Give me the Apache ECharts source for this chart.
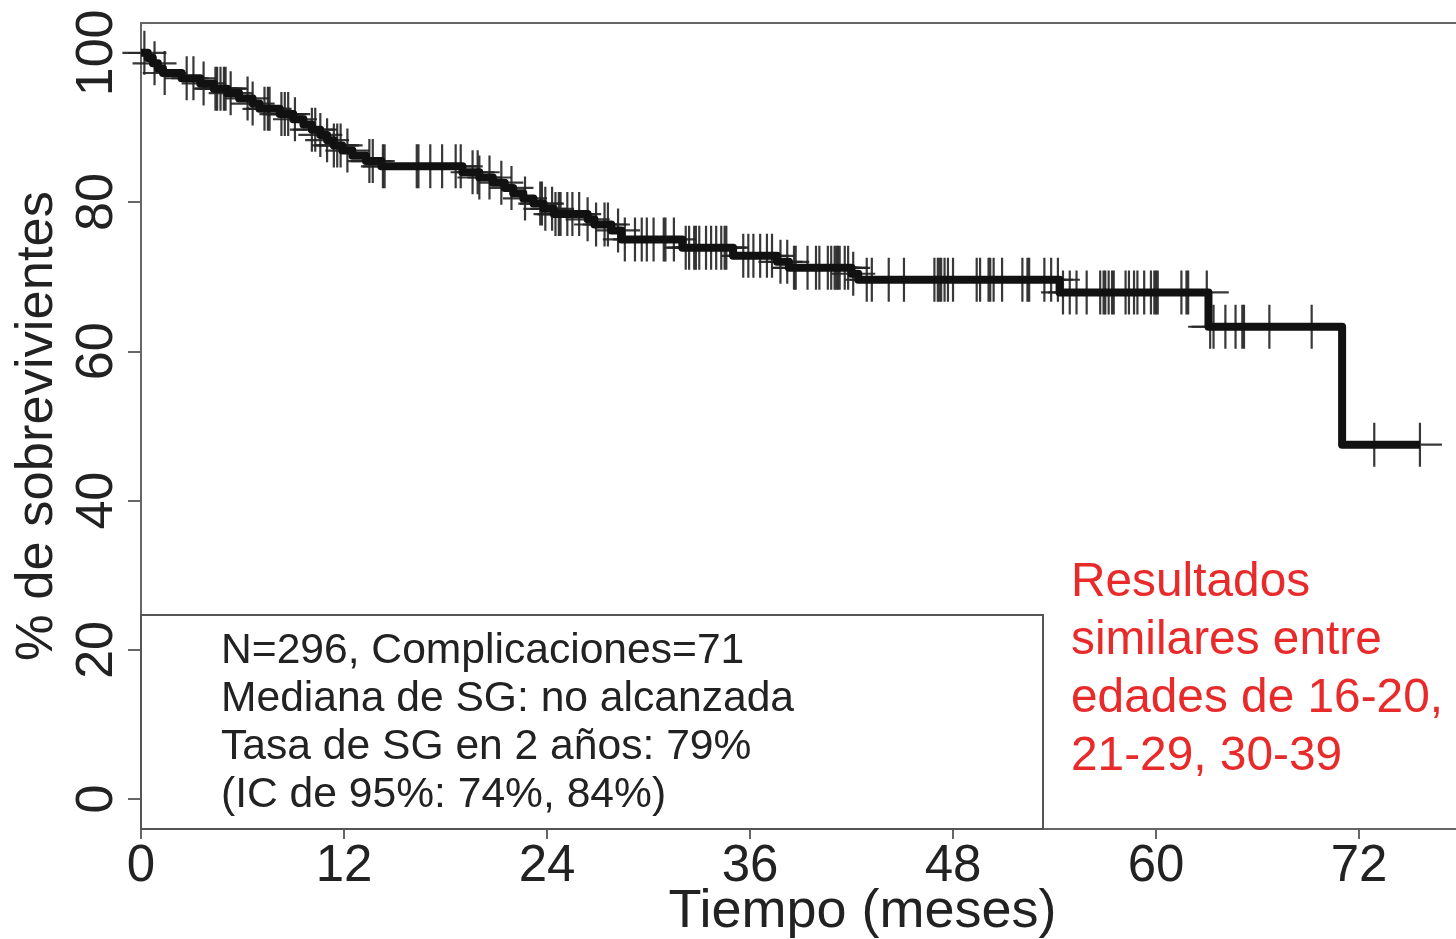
<!DOCTYPE html>
<html>
<head>
<meta charset="utf-8">
<script src="https://cdn.jsdelivr.net/npm/echarts@6/dist/echarts.min.js"></script>
<style>
html,body{margin:0;padding:0;background:#fff}
#chart{width:1456px;height:939px}
</style>
</head>
<body>
<div id="chart"></div>
<script>
// Kaplan-Meier steps (months, % surviving after the drop)
var stepTimes = [0, 0.4, 0.7, 1.0, 1.3, 2.4, 3.5, 4.3, 5.1, 5.8, 6.6, 7.0, 8.2, 9.0, 9.6, 10.1, 10.6, 11.0, 11.4, 11.9,
  12.5, 13.3, 14.2, 19.0, 20.0, 20.8, 21.5, 22.0, 22.6, 23.2, 23.8, 24.4, 26.4, 26.8, 27.8, 28.4, 32.0, 35.0, 37.6, 38.3,
  42.0, 42.4, 54.3, 63.1, 71.0]
var stepSurv = [100, 99.3, 98.6, 97.9, 97.3, 96.6, 95.9, 95.2, 94.6, 93.9, 93.2, 92.5, 91.8, 91.1, 90.4, 89.7, 89.0, 88.3, 87.6, 86.9,
  86.2, 85.5, 84.8, 84.0, 83.3, 82.6, 81.9, 81.2, 80.5, 79.8, 79.1, 78.4, 77.7, 77.0, 76.2, 75.0, 73.9, 72.8, 72.0, 71.2,
  70.4, 69.6, 67.9, 63.3, 47.5]
var endTime = 75.6

// censored patients (the + marks)
var censorTimes = [0.2, 0.8, 1.4, 2.7, 3.1, 3.7, 4.4, 4.5, 4.7, 4.9, 5.0, 5.3, 6.3, 6.6, 7.3, 7.5, 7.6, 8.3, 8.5, 8.7,
  9.1, 10.1, 10.3, 10.6, 11.0, 11.4, 11.6, 11.8, 12.2, 13.5, 13.7, 14.3, 14.4, 16.3, 16.4, 17.1, 17.8, 18.6, 18.9, 19.6,
  19.9, 20.0, 20.6, 21.3, 21.9, 22.7, 23.6, 23.7, 23.9, 24.3, 24.5, 24.7, 24.8, 25.2, 25.5, 25.9, 26.4, 26.9, 27.4, 27.6,
  28.2, 28.6, 29.2, 29.6, 29.9, 30.3, 30.9, 31.0, 31.5, 32.2, 32.4, 32.7, 32.8, 33.0, 33.4, 33.7, 34.0, 34.3, 34.5, 34.6,
  35.6, 35.9, 36.2, 36.6, 37.0, 37.3, 37.8, 38.2, 38.6, 38.7, 39.4, 39.9, 40.1, 40.6, 40.8, 41.0, 41.1, 41.2, 41.3, 41.6,
  41.8, 42.1, 42.9, 43.2, 44.2, 45.1, 46.9, 47.1, 47.2, 47.3, 47.5, 47.7, 48.0, 49.4, 49.6, 50.1, 50.2, 50.4, 50.9, 52.1,
  52.4, 52.5, 53.4, 53.8, 54.2, 54.5, 54.9, 55.3, 55.9, 56.7, 56.9, 57.0, 57.2, 57.4, 57.5, 58.2, 58.4, 58.7, 58.9, 59.3,
  59.7, 59.9, 60.0, 60.1, 61.5, 61.8, 61.9, 63.0, 63.2, 63.4, 64.1, 64.7, 65.1, 65.2, 66.7, 69.2, 72.9, 75.6]

var xTicks = [0, 12, 24, 36, 48, 60, 72]
var yTicks = [0, 20, 40, 60, 80, 100]

var noteLines = ['N=296, Complicaciones=71', 'Mediana de SG: no alcanzada', 'Tasa de SG en 2 años: 79%', '(IC de 95%: 74%, 84%)']
var redLines = ['Resultados', 'similares entre', 'edades de 16-20,', '21-29, 30-39']

var sans = '"Liberation Sans", Arial, sans-serif'

// value of the curve at time t (step lookup)
function survAt(t){
  var v = stepSurv[0]
  for (var i = 0; i < stepTimes.length; i++) {
    if (stepTimes[i] <= t) v = stepSurv[i]
  }
  return v
}

var curve = stepTimes.map(function(t, i){ return [t, stepSurv[i]] })
curve.push([endTime, survAt(endTime)])
var marks = censorTimes.map(function(t){ return [t, survAt(t)] })

var myChart = echarts.init(document.getElementById('chart'))
var option = {
  animation: false,
  backgroundColor: '#fff',
  grid: {
    left: 141, top: 23, right: -2, bottom: 110,
    containLabel: false, outerBoundsMode: 'none',
    show: true, borderColor: '#666', borderWidth: 2
  },
  xAxis: {
    type: 'value', min: 0, max: 77.85,
    axisLine: {show: false, onZero: false},
    splitLine: {show: false},
    axisTick: {customValues: xTicks, length: 10, lineStyle: {color: '#666', width: 2}},
    axisLabel: {customValues: xTicks, fontFamily: sans, fontSize: 51, color: '#222', margin: 12},
    name: 'Tiempo (meses)', nameLocation: 'middle', nameGap: 56, nameMoveOverlap: false,
    nameTextStyle: {fontFamily: sans, fontSize: 54, color: '#222', padding: [0, 0, 0, 126]}
  },
  yAxis: {
    type: 'value', min: -4, max: 104,
    axisLine: {show: false, onZero: false},
    splitLine: {show: false},
    axisTick: {customValues: yTicks, length: 13, lineStyle: {color: '#666', width: 2}},
    axisLabel: {customValues: yTicks, rotate: 90, fontFamily: sans, fontSize: 52, color: '#222', margin: 17},
    name: '% de sobrevivientes', nameLocation: 'middle', nameGap: 77, nameMoveOverlap: false,
    nameTextStyle: {fontFamily: sans, fontSize: 52.5, color: '#222'}
  },
  series: [{
    type: 'scatter',
    data: marks,
    symbol: 'path://M47.5,0L52.5,0L52.5,47.5L100,47.5L100,52.5L52.5,52.5L52.5,100L47.5,100L47.5,52.5L0,52.5L0,47.5L47.5,47.5Z',
    symbolSize: 44,
    itemStyle: {color: '#222', opacity: 0.9},
    z: 2
  }, {
    type: 'line',
    step: 'end',
    data: curve,
    showSymbol: false,
    lineStyle: {color: '#111', width: 8, join: 'round'},
    z: 3
  }],
  graphic: [{
    type: 'rect',
    shape: {x: 141, y: 615, width: 902, height: 214},
    style: {fill: 'none', stroke: '#555', lineWidth: 2},
    z: 10
  }, {
    type: 'text', left: 221, top: 627,
    style: {text: noteLines.join('\n'), font: '42.6px ' + sans, fill: '#222', lineHeight: 48},
    z: 11
  }, {
    type: 'text', left: 1071, top: 554,
    style: {text: redLines.join('\n'), font: '47.8px ' + sans, fill: '#e82a2a', lineHeight: 58},
    z: 11
  }]
}
myChart.setOption(option)
window.addEventListener('resize', function(){ myChart.resize() })
</script>
</body>
</html>
